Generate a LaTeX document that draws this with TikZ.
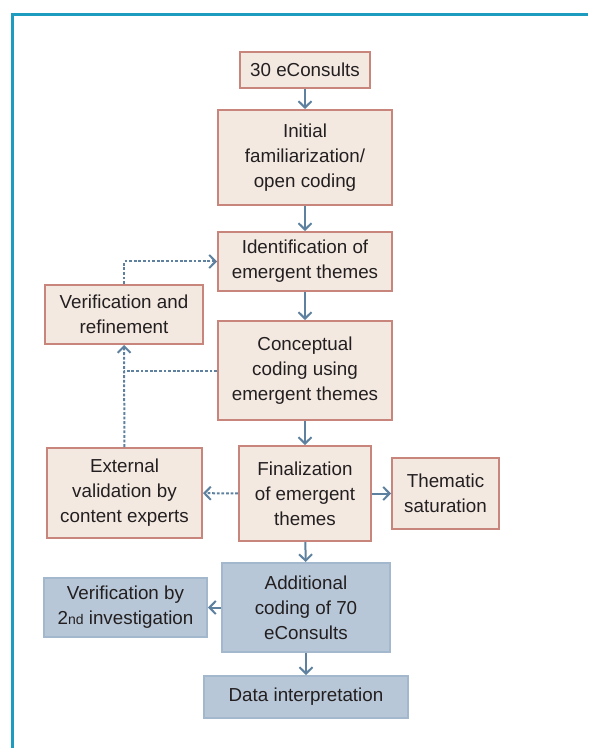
\documentclass[tikz,border=0pt]{standalone}
\usepackage{fontspec}
\setmainfont{Liberation Sans}
\usepackage{xcolor}
\definecolor{framec}{HTML}{1E9CC0}
\definecolor{boxc}{HTML}{F3E9E1}
\definecolor{edgec}{HTML}{C8857C}
\definecolor{bluec}{HTML}{B7C7D7}
\definecolor{bedgec}{HTML}{A3B8CC}
\definecolor{arrc}{HTML}{5E819F}
\definecolor{textc}{HTML}{231F20}
\usetikzlibrary{arrows.meta,positioning,calc}
\tikzset{
  >={Straight Barb[length=3.2pt,width=6.5pt,line width=1pt]},
  stepbox/.style={draw=edgec,line width=1pt,fill=boxc,inner sep=0pt,align=center,text=textc,font=\fontsize{9.4}{12.5}\selectfont},
  bstepbox/.style={stepbox,draw=bedgec,fill=bluec},
  flow/.style={->,line width=1pt,draw=arrc},
  back/.style={flow,dash pattern=on 1.4pt off 0.9pt},
  frame/.style={draw=framec,line width=1.6pt},
}
\begin{document}
\begin{tikzpicture}[x=0.5pt,y=-0.5pt]
  \useasboundingbox (0,0) rectangle (588,748);
  \draw[frame] (12.5,748) -- (12.5,14.5) -- (588,14.5);
  % main column
  \node[stepbox,minimum width=65pt,minimum height=18pt] (start) at (305,70) {30 eConsults};
  \node[stepbox,minimum width=87pt,minimum height=47.5pt] (open) at (305,157.5) {Initial\\familiarization/\\open coding};
  \node[stepbox,minimum width=87pt,minimum height=29.5pt] (ident) at (305,261.5) {Identification of\\emergent themes};
  \node[stepbox,minimum width=87pt,minimum height=49.5pt] (concept) at (305,370.5) {Conceptual\\coding using\\emergent themes};
  \node[stepbox,minimum width=66pt,minimum height=47.5pt] (final) at (305,493.5) {Finalization\\of emergent\\themes};
  \node[bstepbox,minimum width=84pt,minimum height=44.5pt] (addl) at (306,607.5) {Additional\\coding of 70\\eConsults};
  \node[bstepbox,minimum width=102pt,minimum height=21pt] (interp) at (306,697) {Data interpretation};
  % side boxes
  \node[stepbox,minimum width=79pt,minimum height=29.5pt] (refine) at (124,314.5) {Verification and\\refinement};
  \node[stepbox,minimum width=77.5pt,minimum height=45pt] (extval) at (124.5,493) {External\\validation by\\content experts};
  \node[stepbox,minimum width=53.5pt,minimum height=35.5pt] (satur) at (445.5,493.5) {Thematic\\saturation};
  \node[bstepbox,minimum width=81.5pt,minimum height=29.5pt] (second) at (125.5,607.5) {Verification by\\2{\fontsize{7}{8}\selectfont nd} investigation};
  % arrows
  \draw[flow] (start) -- (open);
  \draw[flow] (open) -- (ident);
  \draw[flow] (ident) -- (concept);
  \draw[flow] (concept) -- (final);
  \draw[flow] (final) -- (satur);
  \draw[flow] (final) -- (addl);
  \draw[flow] (addl) -- (second);
  \draw[flow] (addl) -- (interp);
  \draw[back] (final) -- (extval);
  \draw[back] (extval) -- (refine);
  \draw[back,-] (concept.west) -- (concept.west -| refine.south);
  \draw[back] (refine.north) |- (ident.west);
\end{tikzpicture}
\end{document}
